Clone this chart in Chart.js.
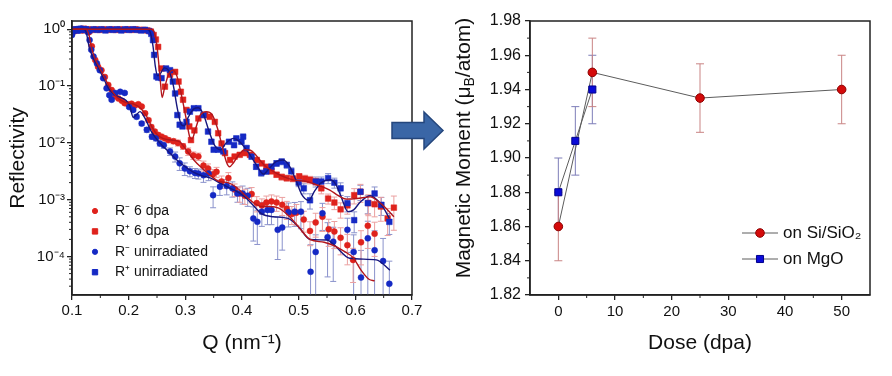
<!DOCTYPE html>
<html><head><meta charset="utf-8">
<script src="https://cdn.jsdelivr.net/npm/chart.js@4.4.1/dist/chart.umd.min.js"></script>
<style>
html,body{margin:0;padding:0;background:#fff;}
#wrap{position:relative;width:892px;height:376px;overflow:hidden;background:#fff;}
#c1{position:absolute;left:0;top:0;}
#c2{position:absolute;left:440px;top:0;}
#arrow{position:absolute;left:0;top:0;pointer-events:none;}
</style></head><body>
<div id="wrap">
<canvas id="c1" width="440" height="376"></canvas>
<canvas id="c2" width="452" height="376"></canvas>
<svg id="arrow" width="892" height="376"><polygon points="392,122.5 424,122.5 424,112 443,130.5 424,149 424,138.5 392,138.5" fill="#3a66a6" stroke="#24467c" stroke-width="1.5"/></svg>
</div>
<script>
// ---------------- LEFT PANEL DATA: [Q (nm^-1), log10(Reflectivity), relative error] ----------------
const rMinus6dpa = [
[0.100,-0.08,0],[0.106,-0.03,0],[0.112,-0.01,0],[0.118,-0.02,0],[0.124,-0.02,0],[0.130,-0.05,0],[0.135,-0.30,0],[0.141,-0.54,0],[0.146,-0.66,0],[0.152,-0.72,0],[0.158,-0.84,0],[0.164,-0.98,0],[0.170,-1.07,0],[0.176,-1.18,0],[0.182,-1.22,0],[0.188,-1.26,0],[0.193,-1.30,0],[0.199,-1.32,0.05],[0.205,-1.31,0.05],[0.211,-1.34,0.05],[0.217,-1.32,0.05],[0.223,-1.36,0.05],[0.229,-1.48,0.05],[0.235,-1.60,0.08],[0.240,-1.72,0.08],[0.246,-1.80,0.08],[0.252,-1.86,0.1],[0.258,-1.89,0.1],[0.264,-1.92,0.1],[0.270,-1.95,0.1],[0.279,-1.97,0.1],[0.287,-2.00,0.12],[0.296,-2.06,0.12],[0.305,-2.15,0.15],[0.314,-2.22,0.15],[0.323,-2.24,0.15],[0.332,-2.40,0.2],[0.340,-2.45,0.2],[0.349,-2.55,0.2],[0.355,-2.51,0.2],[0.364,-2.68,0.25],[0.376,-2.62,0.25],[0.387,-2.82,0.25],[0.396,-2.89,0.3],[0.405,-2.93,0.3],[0.417,-2.90,0.3],[0.426,-3.06,0.3],[0.435,-3.10,0.3],[0.443,-3.05,0.3],[0.452,-3.03,0.3],[0.461,-3.05,0.3],[0.471,-3.09,0.35],[0.479,-3.16,0.35],[0.488,-3.25,0.35],[0.496,-3.23,0.4],[0.509,-3.35,0.4],[0.520,-3.55,0.45],[0.530,-3.40,0.45],[0.542,-3.30,0.45],[0.553,-3.52,0.5],[0.563,-3.56,0.5],[0.574,-3.67,0.5],[0.586,-3.80,0.55],[0.596,-4.06,0.6],[0.610,-3.75,0.6],[0.622,-3.46,0.6],[0.634,-3.60,0.6]
];
const rPlus6dpa = [
[0.100,-0.02,0],[0.107,0.00,0],[0.114,-0.01,0],[0.121,0.01,0],[0.128,0.00,0],[0.135,-0.01,0],[0.142,0.00,0],[0.149,-0.01,0],[0.156,0.00,0],[0.163,-0.01,0],[0.170,0.00,0],[0.177,-0.01,0],[0.184,0.00,0],[0.191,-0.01,0],[0.198,0.00,0],[0.205,-0.01,0],[0.212,0.00,0],[0.219,-0.01,0],[0.226,-0.01,0],[0.233,-0.02,0],[0.239,-0.04,0],[0.244,-0.10,0],[0.248,-0.18,0],[0.252,-0.31,0],[0.258,-0.69,0],[0.264,-1.01,0],[0.273,-0.80,0],[0.282,-0.75,0],[0.288,-0.92,0],[0.292,-1.10,0],[0.296,-1.24,0],[0.302,-1.42,0],[0.307,-1.71,0],[0.310,-1.95,0],[0.316,-1.78,0],[0.323,-1.57,0],[0.335,-1.51,0],[0.343,-1.54,0],[0.352,-1.63,0],[0.358,-1.83,0],[0.364,-2.01,0],[0.370,-2.18,0.05],[0.379,-2.30,0.05],[0.387,-2.24,0.05],[0.396,-2.21,0.05],[0.405,-2.18,0.05],[0.414,-2.21,0.08],[0.426,-2.30,0.08],[0.435,-2.36,0.1],[0.443,-2.42,0.1],[0.452,-2.50,0.1],[0.461,-2.56,0.1],[0.470,-2.60,0.12],[0.479,-2.62,0.12],[0.490,-2.63,0.12],[0.501,-2.59,0.12],[0.511,-2.63,0.15],[0.520,-2.65,0.15],[0.530,-2.68,0.15],[0.540,-2.80,0.2],[0.552,-2.98,0.2],[0.563,-3.05,0.25],[0.574,-3.17,0.3],[0.586,-3.10,0.3],[0.598,-2.92,0.3],[0.609,-2.86,0.35],[0.623,-3.06,0.4],[0.634,-3.08,0.4],[0.645,-3.12,0.45],[0.657,-3.33,0.5],[0.668,-3.14,0.6]
];
const rMinusUnirr = [
[0.100,-0.10,0],[0.104,-0.03,0],[0.108,0.00,0],[0.112,-0.02,0],[0.116,0.01,0],[0.120,-0.01,0],[0.124,0.00,0],[0.128,-0.05,0],[0.131,-0.19,0],[0.134,-0.36,0],[0.138,-0.48,0],[0.144,-0.60,0],[0.149,-0.72,0],[0.155,-0.86,0],[0.161,-1.04,0],[0.166,-1.16,0.05],[0.170,-1.24,0.05],[0.176,-1.12,0.05],[0.185,-1.10,0.05],[0.193,-1.12,0.05],[0.201,-1.37,0.05],[0.208,-1.42,0.05],[0.214,-1.54,0.08],[0.223,-1.66,0.08],[0.232,-1.77,0.1],[0.241,-1.89,0.1],[0.248,-1.92,0.1],[0.255,-2.01,0.1],[0.262,-2.04,0.12],[0.273,-2.15,0.15],[0.282,-2.24,0.2],[0.290,-2.36,0.25],[0.299,-2.45,0.25],[0.308,-2.50,0.2],[0.317,-2.53,0.2],[0.323,-2.54,0.2],[0.332,-2.57,0.25],[0.341,-2.54,0.25],[0.349,-2.92,0.4],[0.361,-2.77,0.3],[0.373,-2.76,0.3],[0.383,-2.80,0.3],[0.392,-2.89,0.3],[0.401,-2.89,0.35],[0.410,-2.93,0.35],[0.420,-3.33,0.6],[0.427,-3.39,0.6],[0.435,-3.21,0.45],[0.445,-3.18,0.45],[0.452,-3.18,0.45],[0.463,-3.53,0.7],[0.471,-3.49,0.6],[0.482,-3.22,0.45],[0.493,-3.21,0.45],[0.504,-3.21,0.5],[0.521,-4.27,2.0],[0.530,-3.92,1.0],[0.542,-3.24,0.5],[0.551,-3.66,0.8],[0.561,-3.74,0.8],[0.586,-3.53,0.6],[0.597,-3.92,1.0],[0.610,-4.37,2.0],[0.622,-3.68,1.0],[0.634,-3.89,1.2],[0.649,-4.08,1.5],[0.660,-4.48,1.5]
];
const rPlusUnirr = [
[0.100,-0.04,0],[0.105,0.00,0],[0.110,-0.02,0],[0.115,0.01,0],[0.120,-0.01,0],[0.125,0.00,0],[0.131,-0.02,0],[0.138,0.00,0],[0.145,-0.01,0],[0.152,0.00,0],[0.159,-0.02,0],[0.166,0.00,0],[0.173,-0.01,0],[0.180,0.00,0],[0.187,-0.02,0],[0.194,0.00,0],[0.201,-0.01,0],[0.208,0.00,0],[0.215,-0.01,0],[0.222,-0.02,0],[0.229,-0.01,0],[0.236,-0.03,0],[0.240,-0.08,0],[0.243,-0.19,0],[0.245,-0.45,0],[0.249,-0.83,0],[0.252,-0.85,0],[0.258,-0.86,0],[0.266,-0.69,0],[0.273,-0.72,0],[0.278,-0.92,0],[0.282,-1.13,0],[0.286,-1.51,0],[0.290,-1.68,0],[0.295,-1.71,0],[0.302,-1.63,0],[0.308,-1.45,0],[0.315,-1.39,0],[0.323,-1.39,0],[0.332,-1.51,0],[0.340,-1.80,0],[0.346,-1.98,0],[0.350,-2.12,0],[0.358,-2.12,0],[0.367,-2.15,0],[0.377,-1.98,0.05],[0.386,-2.04,0.05],[0.390,-1.92,0.05],[0.399,-1.98,0.05],[0.402,-1.89,0.05],[0.408,-2.09,0.08],[0.417,-2.24,0.1],[0.425,-2.42,0.1],[0.434,-2.53,0.12],[0.443,-2.50,0.12],[0.452,-2.42,0.12],[0.461,-2.36,0.12],[0.470,-2.33,0.12],[0.479,-2.39,0.12],[0.487,-2.50,0.15],[0.500,-2.70,0.15],[0.509,-2.80,0.2],[0.520,-3.01,0.3],[0.530,-2.68,0.2],[0.540,-2.68,0.2],[0.552,-2.62,0.2],[0.563,-2.70,0.2],[0.574,-2.80,0.25],[0.586,-3.06,0.3],[0.598,-3.36,0.4],[0.609,-2.86,0.3],[0.622,-3.06,0.35],[0.634,-2.89,0.3],[0.646,-3.09,0.35],[0.660,-3.39,0.4]
];
// fitted curves: [Q, log10(R)]
const fitMinus6dpa = [[0.100,0.00],[0.125,0.00],[0.130,-0.10],[0.135,-0.35],[0.142,-0.55],[0.150,-0.70],[0.160,-0.90],[0.170,-1.08],[0.180,-1.20],[0.190,-1.27],[0.200,-1.30],[0.210,-1.32],[0.220,-1.38],[0.230,-1.50],[0.240,-1.70],[0.250,-1.85],[0.260,-1.92],[0.275,-1.95],[0.290,-1.98],[0.300,-2.10],[0.315,-2.30],[0.330,-2.45],[0.345,-2.58],[0.360,-2.68],[0.375,-2.70],[0.390,-2.78],[0.405,-2.92],[0.420,-3.05],[0.435,-3.12],[0.450,-3.12],[0.465,-3.15],[0.484,-3.30],[0.500,-3.48],[0.520,-3.70],[0.545,-3.75],[0.565,-3.82],[0.582,-3.92],[0.596,-4.02],[0.610,-4.24],[0.624,-4.40],[0.634,-4.43]];
const fitPlus6dpa = [[0.100,0.00],[0.240,0.00],[0.245,-0.05],[0.250,-0.30],[0.255,-0.80],[0.259,-1.20],[0.263,-1.05],[0.270,-0.80],[0.278,-0.72],[0.285,-0.82],[0.293,-1.15],[0.302,-1.60],[0.308,-1.90],[0.312,-1.93],[0.318,-1.75],[0.327,-1.50],[0.337,-1.45],[0.347,-1.50],[0.357,-1.75],[0.366,-2.10],[0.373,-2.35],[0.378,-2.42],[0.385,-2.35],[0.395,-2.20],[0.405,-2.12],[0.415,-2.13],[0.425,-2.22],[0.440,-2.40],[0.455,-2.50],[0.470,-2.58],[0.490,-2.65],[0.514,-2.68],[0.535,-2.75],[0.555,-2.83],[0.570,-2.93],[0.584,-2.99],[0.603,-2.98],[0.626,-2.95],[0.643,-3.05],[0.657,-3.18],[0.668,-3.30]];
const fitMinusUnirr = [[0.100,0.00],[0.120,0.00],[0.125,-0.05],[0.130,-0.30],[0.137,-0.50],[0.145,-0.65],[0.155,-0.85],[0.165,-1.05],[0.175,-1.15],[0.185,-1.20],[0.195,-1.25],[0.202,-1.35],[0.208,-1.55],[0.214,-1.50],[0.220,-1.45],[0.228,-1.55],[0.240,-1.80],[0.255,-2.00],[0.270,-2.15],[0.285,-2.30],[0.300,-2.42],[0.315,-2.52],[0.330,-2.58],[0.345,-2.62],[0.360,-2.70],[0.375,-2.78],[0.390,-2.85],[0.405,-2.95],[0.420,-3.10],[0.435,-3.25],[0.455,-3.30],[0.481,-3.33],[0.500,-3.48],[0.520,-3.70],[0.550,-3.71],[0.563,-3.80],[0.590,-4.03],[0.637,-4.06],[0.661,-4.24]];
const fitPlusUnirr = [[0.100,0.00],[0.232,0.00],[0.238,-0.05],[0.243,-0.30],[0.247,-0.65],[0.251,-0.82],[0.256,-0.78],[0.263,-0.68],[0.270,-0.72],[0.278,-0.95],[0.286,-1.40],[0.293,-1.68],[0.298,-1.70],[0.305,-1.55],[0.315,-1.40],[0.323,-1.38],[0.332,-1.50],[0.342,-1.80],[0.352,-2.05],[0.362,-2.12],[0.372,-2.00],[0.385,-1.92],[0.395,-1.97],[0.410,-2.15],[0.425,-2.38],[0.438,-2.55],[0.448,-2.45],[0.460,-2.33],[0.472,-2.30],[0.482,-2.38],[0.495,-2.65],[0.505,-2.90],[0.518,-3.01],[0.528,-2.85],[0.540,-2.70],[0.555,-2.65],[0.565,-2.72],[0.575,-2.95],[0.587,-3.21],[0.597,-3.18],[0.608,-3.05],[0.626,-2.93],[0.640,-3.02],[0.650,-3.15],[0.660,-3.33]];

const qTicks = [0.1,0.2,0.3,0.4,0.5,0.6,0.7];
const qTickLabels = ['0.1','0.2','0.3','0.4','0.5','0.6','0.7'];
const qMinorTicks = [0.15,0.25,0.35,0.45,0.55,0.65];
const reflTicks = [1e-4,1e-3,1e-2,1e-1,1];
const reflTickLabels = ['10\u207B\u2074','10\u207B\u00B3','10\u207B\u00B2','10\u207B\u00B9','10\u2070'];
const leftTitles = {x:'Q (nm\u207B\u00B9)', y:'Reflectivity'};

// ---------------- RIGHT PANEL DATA ----------------
const doseSi = [0, 6, 25, 50];
const momentSi = [1.86, 1.95, 1.935, 1.94];
const errSi = [0.02, 0.02, 0.02, 0.02];
const doseMgO = [0, 3, 6];
const momentMgO = [1.88, 1.91, 1.94];
const errMgO = [0.02, 0.02, 0.02];
const doseTicks = [0,10,20,30,40,50];
const doseTickLabels = ['0','10','20','30','40','50'];
const doseMinorTicks = [5,15,25,35,45];
const momentTicks = [1.82,1.84,1.86,1.88,1.90,1.92,1.94,1.96,1.98];
const momentTickLabels = ['1.82','1.84','1.86','1.88','1.90','1.92','1.94','1.96','1.98'];
const momentMinorTicks = [1.83,1.85,1.87,1.89,1.91,1.93,1.95,1.97];
const rightXTitle = 'Dose (dpa)';
const momentTitleParts = ['Magnetic Moment (\u03BC','B','/atom)'];

// ---------------- RENDERING ----------------
const FONT = '"Liberation Sans", Arial, Helvetica, sans-serif';
Chart.defaults.font.family = FONT;
Chart.defaults.color = '#111';

const decor = {
  id:'decor',
  afterDraw(chart, args, o){
    const {ctx, chartArea:a, scales} = chart;
    ctx.save();
    ctx.strokeStyle = '#222'; ctx.lineWidth = 1.5;
    ctx.strokeRect(a.left, a.top, a.right-a.left, a.bottom-a.top);
    ctx.lineWidth = 1;
    (o.xMinor||[]).forEach(v=>{const p=scales.x.getPixelForValue(v);ctx.beginPath();ctx.moveTo(p,a.bottom);ctx.lineTo(p,a.bottom+3);ctx.stroke();});
    (o.yMinor||[]).forEach(v=>{const p=scales.y.getPixelForValue(v);if(p<a.top-0.5||p>a.bottom+0.5)return;ctx.beginPath();ctx.moveTo(a.left,p);ctx.lineTo(a.left-3,p);ctx.stroke();});
    ctx.restore();
  }
};
const errorBars = {
  id:'errorBars',
  beforeDatasetsDraw(chart, args, o){
    const {ctx, chartArea:a, scales:{x,y}} = chart;
    ctx.save();
    ctx.beginPath(); ctx.rect(a.left,a.top,a.right-a.left,a.bottom-a.top); ctx.clip();
    chart.data.datasets.forEach(ds=>{
      if(!ds.errors) return;
      ctx.strokeStyle = ds.errorColor; ctx.lineWidth = 1;
      ds.data.forEach((p,j)=>{
        const e = ds.errors[j]; if(!e) return;
        const hi = ds.relErr ? p.y*(1+e) : p.y+e;
        const lo = ds.relErr ? p.y*(1-e) : p.y-e;
        const px = x.getPixelForValue(p.x);
        const pHi = y.getPixelForValue(hi);
        const pLo = lo>0 ? y.getPixelForValue(lo) : a.bottom+20;
        const c = o.cap;
        ctx.beginPath();
        ctx.moveTo(px,pHi); ctx.lineTo(px,pLo);
        ctx.moveTo(px-c,pHi); ctx.lineTo(px+c,pHi);
        ctx.moveTo(px-c,pLo); ctx.lineTo(px+c,pLo);
        ctx.stroke();
      });
    });
    ctx.restore();
  }
};
function marker(ctx, style, x, y, r, fill, stroke){
  ctx.fillStyle = fill; ctx.strokeStyle = stroke; ctx.lineWidth = 1;
  ctx.beginPath();
  if(style==='rect'){const s=r*Math.SQRT1_2; ctx.rect(x-s,y-s,2*s,2*s);} else {ctx.arc(x,y,r,0,Math.PI*2);}
  ctx.fill(); ctx.stroke();
}
const customLegend = {
  id:'customLegend',
  afterDraw(chart, args, o){
    const ctx = chart.ctx;
    ctx.save();
    ctx.font = o.font; ctx.textBaseline = 'middle'; ctx.textAlign = 'left'; ctx.fillStyle = '#111';
    const items = chart.data.datasets.filter(d=>d.legendIndex!==undefined).sort((a,b)=>a.legendIndex-b.legendIndex);
    items.forEach((d,k)=>{
      const y = o.y0 + k*o.dy;
      if(o.lineFrom!==undefined){ctx.strokeStyle=d.borderColor;ctx.lineWidth=1;ctx.beginPath();ctx.moveTo(o.lineFrom,y);ctx.lineTo(o.lineTo,y);ctx.stroke();}
      marker(ctx, d.pointStyle, o.mx, y, d.legendRadius||d.pointRadius, d.pointBackgroundColor, d.pointBorderColor);
      ctx.fillStyle = '#111';
      ctx.fillText(d.label, o.tx, y);
    });
    ctx.restore();
  }
};
const momentTitle = {
  id:'momentTitle',
  afterDraw(chart, args, o){
    const ctx = chart.ctx;
    ctx.save();
    ctx.translate(o.x, o.y); ctx.rotate(-Math.PI/2);
    ctx.fillStyle = '#111'; ctx.textBaseline = 'middle'; ctx.textAlign = 'left';
    const big = '21px '+FONT, small = '14px '+FONT;
    ctx.font = big; const w1 = ctx.measureText(o.parts[0]).width, w3 = ctx.measureText(o.parts[2]).width;
    ctx.font = small; const w2 = ctx.measureText(o.parts[1]).width;
    const sx = -(w1+w2+w3)/2;
    ctx.font = big; ctx.fillText(o.parts[0], sx, 0);
    ctx.font = small; ctx.fillText(o.parts[1], sx+w1, 6);
    ctx.font = big; ctx.fillText(o.parts[2], sx+w1+w2, 0);
    ctx.restore();
  }
};

const toPts = arr => arr.map(p=>({x:p[0], y:Math.pow(10,p[1])}));
function fitDs(arr, color, label){
  return {label, data:toPts(arr), showLine:true, pointRadius:0, borderColor:color, borderWidth:1.4, cubicInterpolationMode:'monotone', fill:false};
}
function ptsDs(arr, label, style, r, color, errColor, li){
  return {label, data:toPts(arr), errors:arr.map(p=>p[2]), relErr:true, errorColor:errColor, showLine:false,
    pointStyle:style, pointRadius:r, pointBackgroundColor:color, pointBorderColor:color, pointBorderWidth:0.5, legendIndex:li, legendRadius:style==='rect'?3.8:2.6};
}
const RED='#df221c', BLUE='#1529c4';
function axisCommon(){
  return {
    grid:{display:true, drawOnChartArea:false, drawTicks:true, tickLength:5, color:'#222', lineWidth:1.3},
    border:{display:true, color:'#222', width:1.5},
  };
}

new Chart(document.getElementById('c1'), {
  type:'scatter',
  data:{datasets:[
    fitDs(fitMinus6dpa, '#b3161c', 'R\u207B 6 dpa fit'),
    fitDs(fitPlus6dpa, '#b3161c', 'R\u207A 6 dpa fit'),
    fitDs(fitMinusUnirr, '#16167e', 'R\u207B unirradiated fit'),
    fitDs(fitPlusUnirr, '#16167e', 'R\u207A unirradiated fit'),
    ptsDs(rPlusUnirr, 'R\u207A unirradiated', 'rect', 4, BLUE, '#8a92cc', 3),
    ptsDs(rMinusUnirr, 'R\u207B unirradiated', 'circle', 3, BLUE, '#8a92cc', 2),
    ptsDs(rPlus6dpa, 'R\u207A 6 dpa', 'rect', 4, RED, '#eba0a0', 1),
    ptsDs(rMinus6dpa, 'R\u207B 6 dpa', 'circle', 3, RED, '#eba0a0', 0)
  ]},
  options:{
    responsive:false, animation:false, events:[], devicePixelRatio:1,
    layout:{padding:{left:0, right:28, top:21, bottom:0}},
    plugins:{legend:{display:false}, tooltip:{enabled:false},
      decor:{xMinor:qMinorTicks, yMinor:(()=>{const m=[];[1e-5,1e-4,1e-3,1e-2,1e-1].forEach(d=>{for(let k=2;k<=9;k++)m.push(d*k);});return m;})()},
      errorBars:{cap:3},
      customLegend:{font:'14px '+FONT, y0:211, dy:20.4, mx:95, tx:115}
    },
    scales:{
      x:{type:'linear', min:0.1, max:0.7, ...axisCommon(),
        afterBuildTicks:s=>{s.ticks = qTicks.map(v=>({value:v}));},
        ticks:{autoSkip:false, maxRotation:0, padding:2, font:{size:15}, color:'#111', callback:(v,i)=>qTickLabels[i]},
        title:{display:true, text:leftTitles.x, font:{size:21}, color:'#111', padding:{top:0,bottom:20}},
        afterFit:s=>{s.height=81;}
      },
      y:{type:'logarithmic', min:2.1e-5, max:1.4, ...axisCommon(),
        afterBuildTicks:s=>{s.ticks = reflTicks.map(v=>({value:v}));},
        ticks:{autoSkip:false, padding:2, font:{size:15}, color:'#111', callback:(v,i)=>reflTickLabels[i]},
        title:{display:true, text:leftTitles.y, font:{size:21}, color:'#111', padding:{top:6,bottom:0}},
        afterFit:s=>{s.width=72;}
      }
    }
  },
  plugins:[errorBars, decor, customLegend]
});

new Chart(document.getElementById('c2'), {
  type:'scatter',
  data:{datasets:[
    {label:'on MgO', data:doseMgO.map((d,i)=>({x:d,y:momentMgO[i]})), errors:errMgO, relErr:false, errorColor:'#7d7db8',
      showLine:true, borderColor:'#5c5c5c', borderWidth:1, pointStyle:'rect', pointRadius:5, pointBackgroundColor:'#0a0ad8', pointBorderColor:'#00008c', pointBorderWidth:1, legendIndex:1, legendRadius:5},
    {label:'on Si/SiO\u2082', data:doseSi.map((d,i)=>({x:d,y:momentSi[i]})), errors:errSi, relErr:false, errorColor:'#c98484',
      showLine:true, borderColor:'#5c5c5c', borderWidth:1, pointStyle:'circle', pointRadius:4.3, pointBackgroundColor:'#d40a0a', pointBorderColor:'#8c0000', pointBorderWidth:1, legendIndex:0, legendRadius:4.3}
  ]},
  options:{
    responsive:false, animation:false, events:[], devicePixelRatio:1,
    layout:{padding:{left:0, right:22, top:21, bottom:0}},
    plugins:{legend:{display:false}, tooltip:{enabled:false},
      decor:{xMinor:doseMinorTicks, yMinor:momentMinorTicks},
      errorBars:{cap:4},
      customLegend:{font:'17px '+FONT, y0:233, dy:26, mx:320, tx:343, lineFrom:302, lineTo:338},
      momentTitle:{x:24, y:148, parts:momentTitleParts}
    },
    scales:{
      x:{type:'linear', min:-5, max:55, ...axisCommon(),
        afterBuildTicks:s=>{s.ticks = doseTicks.map(v=>({value:v}));},
        ticks:{autoSkip:false, maxRotation:0, padding:3, font:{size:15}, color:'#111', callback:(v,i)=>doseTickLabels[i]},
        title:{display:true, text:rightXTitle, font:{size:21}, color:'#111', padding:{top:0,bottom:20}},
        afterFit:s=>{s.height=81;}
      },
      y:{type:'linear', min:1.82, max:1.98, ...axisCommon(),
        afterBuildTicks:s=>{s.ticks = momentTicks.map(v=>({value:v}));},
        ticks:{autoSkip:false, padding:4, font:{size:16}, color:'#111', callback:(v,i)=>momentTickLabels[i]},
        title:{display:false},
        afterFit:s=>{s.width=90;}
      }
    }
  },
  plugins:[errorBars, decor, customLegend, momentTitle]
});
</script>
</body></html>
